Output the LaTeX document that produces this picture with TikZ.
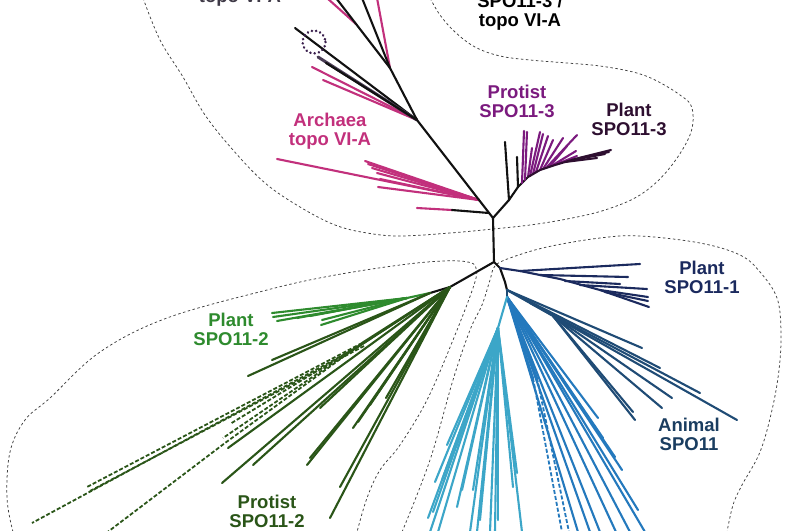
\documentclass[tikz,border=0pt]{standalone}
\usepackage{fontspec}
\setmainfont{Liberation Sans}
\definecolor{archaea}{HTML}{C2307C}
\definecolor{protistT}{HTML}{7B1A7E}
\definecolor{plantT}{HTML}{2E0F30}
\definecolor{eukgray}{HTML}{4A3D55}
\definecolor{circ}{HTML}{3A1F4D}
\definecolor{toplab}{HTML}{3F3A47}
\definecolor{plantO}{HTML}{1B2A5E}
\definecolor{animal}{HTML}{1F4B75}
\definecolor{animallab}{HTML}{1A3D60}
\definecolor{bluefan}{HTML}{2479BD}
\definecolor{cyanfan}{HTML}{3CA6C8}
\definecolor{plantW}{HTML}{2E8B2E}
\definecolor{protistW}{HTML}{2A5518}
\definecolor{stem}{HTML}{111111}
\begin{document}
\begin{tikzpicture}[x=1pt,y=-1pt,
  br/.style={line width=2.1pt, line cap=round},
  dbr/.style={line width=1.8pt, dash pattern=on 4pt off 2pt},
  bound/.style={draw=black!75, dash pattern=on 2.5pt off 2.5pt, line width=0.75pt},
  lab/.style={font=\bfseries\fontsize{18.5}{19}\selectfont, align=center, inner sep=0pt, anchor=north},
]
\useasboundingbox (0,0) rectangle (800,530);
\fill[white] (0,0) rectangle (800,530);
\clip (0,0) rectangle (800,530);

% ---------- dashed region outlines ----------
\draw[bound] plot[smooth, tension=0.6] coordinates {(143,-2) (160,40) (183,77) (205,115) (233,150) (265,183) (300,207) (335,225) (367,233) (400,236) (450,233) (493,229) (530,225) (567,219) (605,210) (640,195) (668,170) (690,135) (692,108) (680,95) (655,80) (633,72) (600,66) (567,63) (530,60) (500,56) (475,47) (455,32) (440,15) (430,-2)};
\draw[bound] plot[smooth, tension=0.6] coordinates {(402,532) (430,460) (453,380) (470,330) (482,305) (490,280) (495,266) (510,258) (547,247) (600,238) (640,236) (700,243) (740,255) (760,272) (777,298) (781,332) (779,370) (772,410) (760,452) (742,485) (733,505) (727,532)};
\draw[bound] plot[smooth, tension=0.6] coordinates {(13,532) (7,498) (10,452) (25,420) (50,398) (100,352) (167,318) (267,290) (330,276) (400,265) (443,261) (468,262) (476,268) (474,285) (453,340) (427,400) (400,445) (380,470) (367,498) (357,532)};

% ---------- junctions ----------
\coordinate (T) at (493,218);
\coordinate (B) at (494,262);
\coordinate (U) at (417,120);
\coordinate (V) at (390,68);
\coordinate (A1) at (479,200);
\coordinate (S1) at (509,200);
\coordinate (G1) at (450,287);
\coordinate (G2) at (430,293);
\coordinate (G3) at (407,298);
\coordinate (N1) at (500,268);
\coordinate (K) at (505,282);
\coordinate (An) at (507,290);
\coordinate (Bl) at (507,297);
\coordinate (C) at (498,328);

% ---------- upper clade (archaea / eukaryote topo VI-A) ----------
\foreach \x/\y in {277/159,365/161,368/164,372/168,377/173,380/179,378/187}
  \draw[br,archaea] (A1) -- (\x,\y);
\draw[br,archaea] (417,208) -- (452,210);
\draw[br,stem] (452,210) -- (489,213);
\draw[br,archaea] (U) -- (312,67);
\draw[br,archaea] (U) -- (323,80);
\draw[br,stem] (U) -- (295,28);
\draw[line width=3pt,line cap=round,eukgray] (U) -- (318,57);
\draw[br,stem] (U) -- (326,63);
\draw[br,archaea] (V) -- (377,-2);
\draw[br,archaea] (356,24) -- (327,-2);
\draw[br,stem] (V) -- (336,-2);
\draw[br,stem] (V) -- (362,-2);
\draw[br,stem] (B) -- (T) -- (U) -- (V);
\draw[circ,line width=2.8pt,line cap=round,dash pattern=on 0.01pt off 4.3pt] (314,42) circle[radius=11.5];

% ---------- SPO11-3 clade ----------
\draw[br,stem] (T) -- (S1) -- (518,187) -- (528,177);
\draw[br,stem] (S1) -- (505,142);
\draw[br,stem] (518,187) -- (517,157);
\foreach \a/\b/\c/\d in {522/183/524/131,525/180/527/132,528/177/532/148,530/176/540/132,533/174/543/134,536/172/548/136,540/170/553/140,543/169/563/138,547/167/577/135,550/166/567/146,553/165/576/151,557/164/577/156}
  \draw[br,protistT] (\a,\b) -- (\c,\d);
\draw[br,plantT] (528,177) -- (540,170) -- (555,165) -- (575,159) -- (611,150);
\foreach \a/\b/\c/\d in {565/162/597/158,572/160/605/154,580/158/609/152}
  \draw[br,plantT] (\a,\b) -- (\c,\d);

% ---------- SPO11-2 clade ----------
\draw[br,stem] (B) -- (G1) -- (G2);
\draw[br,plantW] (G2) -- (G3);
\foreach \x/\y in {272/313,273/317,277/321,297/318,310/316,322/320,321/325}
  \draw[br,plantW] (G3) -- (\x,\y);
\draw[br,protistW] (G2) -- (272,360);
\draw[br,protistW] (G2) -- (248,376);
\foreach \x/\y in {320/408,228/448,222/483,253/465,307/465,310/458,353/428,358/422,370/405,340/487,330/518,386/398}
  \draw[br,protistW] (G1) -- (\x,\y);
\draw[br,protistW] (G1) -- (362,343);
\draw[br,protistW] (G1) -- (356,348);
\draw[br,protistW] (G1) -- (350,352);
\draw[dbr,protistW] (362,343) -- (87,487);
\draw[dbr,protistW] (364,346) -- (90,491);
\draw[dbr,protistW] (356,348) -- (32,523);
\draw[dbr,protistW] (350,352) -- (225,443) -- (105,534);
\draw[dbr,protistW] (352,350) -- (223,438);
\draw[dbr,protistW] (358,346) -- (230,424);

% ---------- SPO11-1 / animal clade ----------
\draw[br,stem] (B) -- (N1) -- (K) -- (An);
\draw[br,plantO] (N1) -- (520,271) -- (560,279) -- (600,290) -- (649,307);
\foreach \a/\b/\c/\d in {520/271/640/264,540/275/628/277,565/281/620/284,580/285/647/289,600/290/648/297,605/292/648/301}
  \draw[br,plantO] (\a,\b) -- (\c,\d);
\draw[br,animal] (An) -- (737,420);
\foreach \a/\b/\c/\d in {507/290/642/348,507/290/660/368,530/303/700/393,553/316/672/398,553/316/662/408,553/316/633/412,553/316/635/420}
  \draw[br,animal] (\a,\b) -- (\c,\d);
\draw[br,animal] (An) -- (Bl);
\foreach \x/\y in {598/418,603/438,615/457,622/470,638/510,645/532,630/532,616/532,600/532,590/532,578/532}
  \draw[br,bluefan] (Bl) -- (\x,\y);
\draw[br,bluefan] (Bl) -- (533,378);
\draw[br,bluefan] (Bl) -- (537,378);
\draw[dbr,bluefan] (533,378) -- (562,532);
\draw[dbr,bluefan] (537,378) -- (569,532);
\draw[br,cyanfan] (Bl) -- (C);
\foreach \x/\y in {428/518,433/512,435/482,442/480,457/507,462/490,473/490,480/520,498/520,513/487,517/473,430/532,438/532,470/532,477/532,490/532,495/532,522/532,447/445,456/447}
  \draw[br,cyanfan] (C) -- (\x,\y);

% ---------- labels ----------
\node[lab,text=toplab] (euk) at (240,-10) {topo VI-A};
\node[lab,text=black] (spoT) at (520,-6) {SPO11-3 /\\topo VI-A};
\node[lab,text=archaea] (arch) at (330,113) {Archaea\\topo VI-A};
\node[lab,text=protistT] (prT) at (517,85) {Protist\\SPO11-3};
\node[lab,text=plantT] (plT) at (629,103) {Plant\\SPO11-3};
\node[lab,text=plantO] (plO) at (702,261) {Plant\\SPO11-1};
\node[lab,text=animallab] (anim) at (689,418) {Animal\\SPO11};
\node[lab,text=plantW] (plW) at (231,313) {Plant\\SPO11-2};
\node[lab,text=protistW] (prW) at (267,495) {Protist\\SPO11-2};
\end{tikzpicture}
\end{document}
